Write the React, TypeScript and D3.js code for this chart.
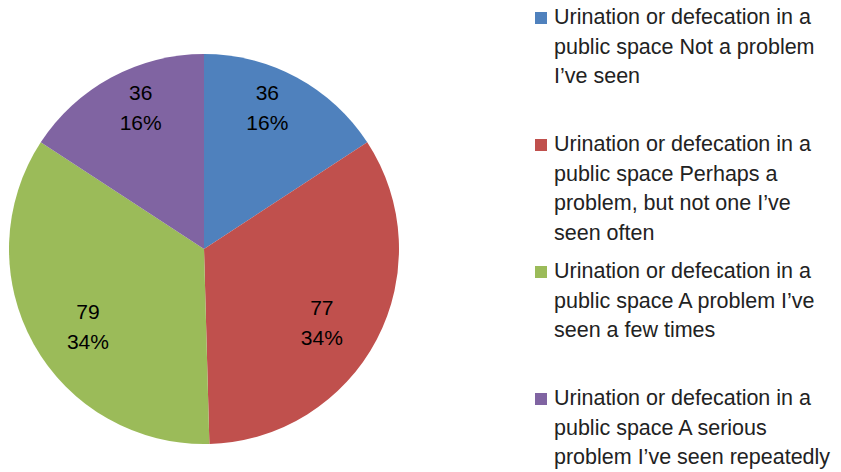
import React, { useEffect, useRef } from 'react'
import * as d3 from 'd3'

const categories = [
  'Urination or defecation in a public space Not a problem I\u2019ve seen',
  'Urination or defecation in a public space Perhaps a problem, but not one I\u2019ve seen often',
  'Urination or defecation in a public space A problem I\u2019ve seen a few times',
  'Urination or defecation in a public space A serious problem I\u2019ve seen repeatedly',
]
const values = [36, 77, 79, 36]
const percentLabels = ['16%', '34%', '34%', '16%']
const legendLines = [
  ['Urination or defecation in a', 'public space Not a problem', 'I\u2019ve seen'],
  ['Urination or defecation in a', 'public space Perhaps a', 'problem, but not one I\u2019ve', 'seen often'],
  ['Urination or defecation in a', 'public space A problem I\u2019ve', 'seen a few times'],
  ['Urination or defecation in a', 'public space A serious', 'problem I\u2019ve seen repeatedly'],
]
const colors = ['#4F81BD', '#C0504D', '#9BBB59', '#8064A2']

export default function App() {
  const svgRef = useRef<SVGSVGElement>(null)

  useEffect(() => {
    const svg = d3.select(svgRef.current)
    svg.selectAll('*').remove()
    const font = '"Liberation Sans", Arial, sans-serif'
    const cx = 204, cy = 249, r = 195

    const data = values.map((v, i) => ({ v, i, name: categories[i] }))
    const pie = d3.pie<any>().value(d => d.v).sort(null)
    const arcs = pie(data)
    const arc = d3.arc<any>().innerRadius(0).outerRadius(r)
    // unit-radius centroid, stretched like Excel's best-fit label placement
    const unitArc = d3.arc<any>().innerRadius(1).outerRadius(1)
    const rx = 133, ry = 160

    const g = svg.append('g').attr('transform', `translate(${cx},${cy})`)
    g.selectAll('path').data(arcs).enter().append('path')
      .attr('d', arc)
      .attr('fill', d => colors[d.data.i])
      .attr('stroke', 'none')

    const lbl = g.selectAll('.lbl').data(arcs).enter().append('text')
      .attr('class', 'lbl')
      .attr('transform', d => { const [x, y] = unitArc.centroid(d); return `translate(${x * rx},${y * ry})` })
      .attr('text-anchor', 'middle')
      .style('font-family', font)
      .style('font-size', '21px')
      .style('fill', '#000')
    lbl.append('tspan').attr('x', 0).attr('y', -8).text(d => d.data.v)
    lbl.append('tspan').attr('x', 0).attr('y', 22).text(d => percentLabels[d.data.i])

    // legend
    const lx = 535, lineH = 29.5
    const itemY = d3.scaleLinear().domain([0, 3]).range([24, 405])
    const leg = svg.selectAll('.leg').data(legendLines).enter().append('g')
      .attr('class', 'leg')
      .attr('transform', (d, i) => `translate(${lx},${itemY(i)})`)
    leg.append('rect').attr('x', 0).attr('y', -12).attr('width', 12).attr('height', 12)
      .attr('fill', (d, i) => colors[i])
    leg.each(function (lines) {
      const t = d3.select(this).append('text')
        .style('font-family', font).style('font-size', '21.5px').style('fill', '#222')
      lines.forEach((l, k) => {
        t.append('tspan').attr('x', 19).attr('y', k * lineH).text(l)
      })
    })
  }, [])

  return (
    <svg ref={svgRef} width={841} height={472}
      style={{ position: 'absolute', left: 0, top: 0, display: 'block', background: '#fff' }} />
  )
}
